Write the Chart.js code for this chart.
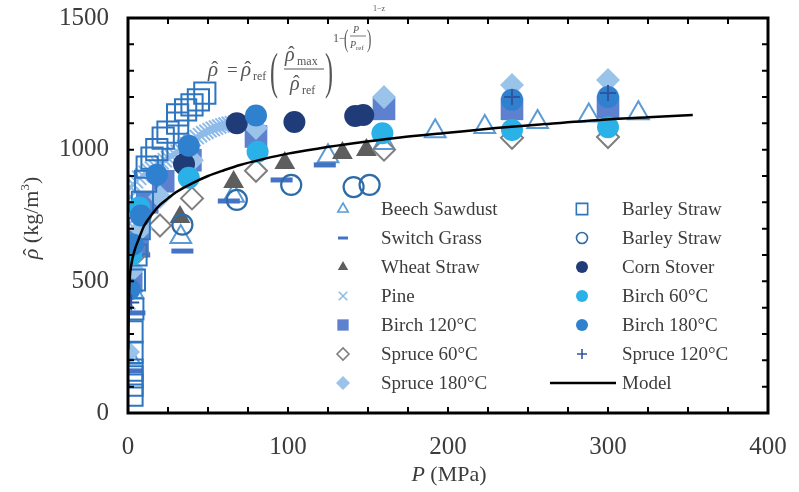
<!DOCTYPE html>
<html>
<head>
<meta charset="utf-8">
<script src="https://cdn.jsdelivr.net/npm/chart.js@4.4.0/dist/chart.umd.min.js"></script>
<style>
  html, body { margin: 0; background: #fff; }
</style>
</head>
<body>
<canvas id="chart" width="799" height="492"></canvas>
<script>
// values: [P (MPa), density (kg/m3)]
const beechSawdust = [[1,210],[3,460],[33,668],[66,825],[125,975],[160,1025],[192,1070],[223,1086],[256,1105],[288,1130],[319,1138]]
const switchGrass = [[2,160],[4,380],[7,600],[34,615],[63,805],[96,885],[123,942]]
const wheatStraw = [[32.5,744],[66,877],[98,949],[134,987],[149,999]]
const pine = [[0.2,420],[0.3,470],[0.4,520],[0.5,570],[0.6,620],[0.8,670],[1,720],[1.2,770],[1.5,820],[2,855],[3,870],[5,880],[7,893],[9,903],[11,912],[13,920],[15,928],[17,936],[19,944],[21,952],[23,960],[25,968],[27,976],[29,984],[31,992],[33,1000],[35,1010],[37,1020],[39,1030],[41,1040],[43,1048],[45,1055],[47,1062],[49,1068],[51,1074],[53,1079],[55,1084],[57,1088],[59,1092],[61,1095],[63,1098],[65,1100],[67,1102],[69,1104]]
const birch120 = [[2,500],[6,650],[12,800],[22,880],[39,960],[80,1050],[160,1155],[240,1155],[300,1162]]
const spruce60 = [[6,610],[20,712],[40,815],[80,920],[160,1000],[240,1045],[300,1048]]
const spruce180 = [[0,232],[3,545],[8,700],[20,820],[40,960],[80,1082],[160,1200],[240,1246],[300,1265]]
const barleySquare = [[2.5,68],[2.5,106],[2.5,137],[2.5,163],[2.5,230],[2.5,308],[3,395],[4,505],[5,600],[7,700],[9,800],[11,880],[12,934],[15,968],[18,1000],[22,1044],[25,1067],[31,1101],[31,1132],[36,1151],[40,1170],[44,1189],[48,1215]]
const barleyCircle = [[34,715],[68,809],[102,866],[141,858],[151,866]]
const cornStover = [[35,945],[68,1100],[104,1105],[142,1128],[147,1132]]
const birch60 = [[2,600],[7,780],[38,893],[81,992],[159,1062],[240,1075],[300,1085]]
const birch180 = [[1,470],[3,640],[8,750],[18,905],[38,1015],[80,1130],[240,1190],[300,1200]]
const spruce120 = [[2,420],[240,1200],[300,1215]]
const model = [[0.1,240],[0.5,400],[1,500],[2,560],[4,615],[7,665],[10,710],[15,755],[20,790],[25,815],[30,838],[40,872],[50,900],[60,922],[70,942],[85,965],[100,985],[120,1005],[140,1023],[170,1046],[200,1064],[230,1082],[260,1097],[295,1113],[325,1123],[353,1132]]

const xTicks = [0, 100, 200, 300, 400]
const yTicks = [0, 500, 1000, 1500]

const SERIF = '"Liberation Serif", "Times New Roman", serif'
const TEXT = '#3c3c3c'
const pts = (arr) => arr.map(([x, y]) => ({ x, y }))

// label, data, style, marker radius in plot, marker radius in legend, filled?
const series = [
  { label: 'Beech Sawdust', data: beechSawdust, style: 'triangle', color: '#5b9bd5', r: 12, lr: 6, fill: false, bw: 2 },
  { label: 'Switch Grass', data: switchGrass, style: 'line', color: '#4472c4', r: 11, lr: 5, fill: false, bw: 5 },
  { label: 'Wheat Straw', data: wheatStraw, style: 'triangle', color: '#5e5e5e', r: 12, lr: 6, fill: true, bw: 0 },
  { label: 'Pine', data: pine, style: 'crossRot', color: '#8fbbe8', r: 10, lr: 6, fill: false, bw: 2 },
  { label: 'Birch 120°C', data: birch120, style: 'rect', color: '#5d81cf', r: 16, lr: 8, fill: true, bw: 0 },
  { label: 'Spruce 60°C', data: spruce60, style: 'rectRot', color: '#7f7f7f', r: 11, lr: 6, fill: false, bw: 2 },
  { label: 'Spruce 180°C', data: spruce180, style: 'rectRot', color: '#9ac3ea', r: 12, lr: 7, fill: true, bw: 0 },
  { label: 'Barley Straw', data: barleySquare, style: 'rect', color: '#2e75c0', r: 15, lr: 8, fill: false, bw: 2 },
  { label: 'Barley Straw', data: barleyCircle, style: 'circle', color: '#2e6ca8', r: 10, lr: 5.5, fill: false, bw: 2.2 },
  { label: 'Corn Stover', data: cornStover, style: 'circle', color: '#203c78', r: 11, lr: 6, fill: true, bw: 0 },
  { label: 'Birch 60°C', data: birch60, style: 'circle', color: '#2ab1e8', r: 11, lr: 6, fill: true, bw: 0 },
  { label: 'Birch 180°C', data: birch180, style: 'circle', color: '#2f80cf', r: 11, lr: 6, fill: true, bw: 0 },
  { label: 'Spruce 120°C', data: spruce120, style: 'cross', color: '#2f55a0', r: 8, lr: 5, fill: false, bw: 2 },
]

const datasets = [
  {
    label: 'Model',
    data: pts(model),
    showLine: true,
    borderColor: '#000',
    borderWidth: 2.5,
    pointRadius: 0,
    cubicInterpolationMode: 'monotone',
    order: 0,
  },
  ...series.map((s, i) => ({
    label: s.label,
    data: pts(s.data),
    pointStyle: s.style,
    pointRadius: s.r,
    pointHoverRadius: s.r,
    pointBorderWidth: s.bw || 0.01,
    pointBorderColor: s.color,
    pointBackgroundColor: s.fill ? s.color : 'rgba(0,0,0,0)',
    order: 20 - i,
  })),
]

function hatRho(ctx, x, y, size) {
  ctx.font = `italic ${size}px ${SERIF}`
  ctx.textAlign = 'left'
  ctx.fillText('ρ', x, y)
  const w = ctx.measureText('ρ').width
  ctx.font = `${size}px ${SERIF}`
  const hw = ctx.measureText('ˆ').width
  ctx.fillText('ˆ', x + w / 2 - hw / 2 + size * 0.08, y - size * 0.02)
  return w
}

const decorations = {
  id: 'decorations',
  afterDraw(chart) {
    const { ctx, chartArea: a, scales: { x, y } } = chart
    ctx.save()

    // inward ticks on all four sides
    ctx.strokeStyle = '#000'
    ctx.lineWidth = 2
    for (let v = 0; v <= 400; v += 25) {
      const px = x.getPixelForValue(v)
      ctx.beginPath()
      ctx.moveTo(px, a.bottom); ctx.lineTo(px, a.bottom - 6)
      ctx.moveTo(px, a.top); ctx.lineTo(px, a.top + 6)
      ctx.stroke()
    }
    for (let v = 0; v <= 1500; v += 100) {
      const py = y.getPixelForValue(v)
      ctx.beginPath()
      ctx.moveTo(a.left, py); ctx.lineTo(a.left + 6, py)
      ctx.moveTo(a.right, py); ctx.lineTo(a.right - 6, py)
      ctx.stroke()
    }
    ctx.lineWidth = 3
    ctx.strokeRect(a.left, a.top, a.right - a.left, a.bottom - a.top)

    ctx.fillStyle = TEXT
    ctx.textBaseline = 'alphabetic'

    // x title
    ctx.font = `italic 22px ${SERIF}`
    const pW = ctx.measureText('P').width
    ctx.font = `22px ${SERIF}`
    const restW = ctx.measureText(' (MPa)').width
    let sx = 449 - (pW + restW) / 2
    ctx.font = `italic 22px ${SERIF}`
    ctx.textAlign = 'left'
    ctx.fillText('P', sx, 481)
    ctx.font = `22px ${SERIF}`
    ctx.fillText(' (MPa)', sx + pW, 481)

    // y title
    ctx.save()
    ctx.translate(38, 218)
    ctx.rotate(-Math.PI / 2)
    ctx.font = `22px ${SERIF}`
    const t1 = ' (kg/m', t2 = ')'
    const w1 = ctx.measureText(t1).width, w2 = ctx.measureText(t2).width
    ctx.font = `italic 22px ${SERIF}`
    const rw = ctx.measureText('ρ').width
    ctx.font = `13px ${SERIF}`
    const w3 = ctx.measureText('3').width
    let ox = -(rw + w1 + w3 + w2) / 2
    hatRho(ctx, ox, 0, 22)
    ox += rw
    ctx.font = `22px ${SERIF}`
    ctx.fillText(t1, ox, 0); ox += w1
    ctx.font = `13px ${SERIF}`
    ctx.fillText('3', ox, -9); ox += w3
    ctx.font = `22px ${SERIF}`
    ctx.fillText(t2, ox, 0)
    ctx.restore()

    // model equation
    ctx.fillStyle = '#555'
    hatRho(ctx, 208, 76, 21)
    ctx.font = `19px ${SERIF}`
    ctx.fillText('=', 227, 76)
    hatRho(ctx, 241, 76, 21)
    ctx.font = `12px ${SERIF}`
    ctx.fillText('ref', 253, 80)
    ctx.save()
    ctx.translate(270, 88); ctx.scale(1, 2.1)
    ctx.font = `24px ${SERIF}`; ctx.fillText('(', 0, 0)
    ctx.restore()
    hatRho(ctx, 285, 61, 20)
    ctx.font = `12px ${SERIF}`
    ctx.fillText('max', 297, 65)
    ctx.lineWidth = 1.2; ctx.strokeStyle = '#555'
    ctx.beginPath(); ctx.moveTo(284, 69); ctx.lineTo(324, 69); ctx.stroke()
    hatRho(ctx, 290, 90, 20)
    ctx.font = `12px ${SERIF}`
    ctx.fillText('ref', 302, 94)
    ctx.save()
    ctx.translate(325, 88); ctx.scale(1, 2.1)
    ctx.font = `24px ${SERIF}`; ctx.fillText(')', 0, 0)
    ctx.restore()
    ctx.font = `12px ${SERIF}`
    ctx.fillText('1−', 333, 42)
    ctx.save()
    ctx.translate(344, 47); ctx.scale(1, 1.9)
    ctx.font = `13px ${SERIF}`; ctx.fillText('(', 0, 0)
    ctx.restore()
    ctx.font = `italic 10px ${SERIF}`
    ctx.fillText('P', 353, 33)
    ctx.beginPath(); ctx.moveTo(350, 36); ctx.lineTo(366, 36); ctx.lineWidth = 0.8; ctx.stroke()
    ctx.fillText('P', 350, 48)
    ctx.font = `7px ${SERIF}`
    ctx.fillText('ref', 356, 50)
    ctx.save()
    ctx.translate(367, 47); ctx.scale(1, 1.9)
    ctx.font = `13px ${SERIF}`; ctx.fillText(')', 0, 0)
    ctx.restore()
    ctx.font = `8px ${SERIF}`
    ctx.fillText('1−z', 373, 11)

    // legend, two columns
    const rows = [209, 238, 267, 296, 325, 354, 383]
    const entries = series.map((s) => s)
    entries.push({ label: 'Model', style: 'model' })
    entries.forEach((s, i) => {
      const col = i < 7 ? 0 : 1
      const ry = rows[i % 7]
      const mx = col === 0 ? 343 : 582
      const tx = col === 0 ? 381 : 622
      if (s.style === 'model') {
        ctx.strokeStyle = '#000'; ctx.lineWidth = 2.5
        ctx.beginPath(); ctx.moveTo(550, ry); ctx.lineTo(616, ry); ctx.stroke()
      } else {
        ctx.fillStyle = s.fill ? s.color : 'rgba(0,0,0,0)'
        ctx.strokeStyle = s.color
        ctx.lineWidth = s.style === 'line' ? 3 : 1.6
        Chart.helpers.drawPoint(ctx, { pointStyle: s.style, radius: s.lr, rotation: 0, borderWidth: s.fill ? 0 : ctx.lineWidth }, mx, ry)
      }
      ctx.fillStyle = TEXT
      ctx.font = `19px ${SERIF}`
      ctx.textAlign = 'left'
      ctx.textBaseline = 'middle'
      ctx.fillText(s.label, tx, ry + 1)
      ctx.textBaseline = 'alphabetic'
    })

    ctx.restore()
  },
}

// pin the plot box: labels at the ends must not push the chart area in
const noOverflow = (s) => {
  s.paddingTop = 0; s.paddingBottom = 0; s.paddingLeft = 0; s.paddingRight = 0
}

new Chart(document.getElementById('chart'), {
  type: 'scatter',
  data: { datasets },
  options: {
    responsive: false,
    animation: false,
    devicePixelRatio: 1,
    layout: { padding: { top: 18, right: 31, left: 0, bottom: 0 } },
    plugins: { legend: { display: false }, tooltip: { enabled: false } },
    scales: {
      x: {
        type: 'linear',
        min: 0,
        max: 400,
        afterFit: (s) => { s.height = 79; noOverflow(s) },
        afterBuildTicks: (s) => { s.ticks = xTicks.map((v) => ({ value: v })) },
        grid: { display: false, drawTicks: false },
        border: { display: false },
        ticks: { color: TEXT, padding: 19, font: { family: SERIF, size: 25 }, callback: (v) => String(v) },
      },
      y: {
        type: 'linear',
        min: 0,
        max: 1500,
        afterFit: (s) => { s.width = 128; noOverflow(s) },
        afterBuildTicks: (s) => { s.ticks = yTicks.map((v) => ({ value: v })) },
        grid: { display: false, drawTicks: false },
        border: { display: false },
        ticks: { color: TEXT, padding: 19, font: { family: SERIF, size: 25 }, callback: (v) => String(v) },
      },
    },
  },
  plugins: [decorations],
})
</script>
</body>
</html>
